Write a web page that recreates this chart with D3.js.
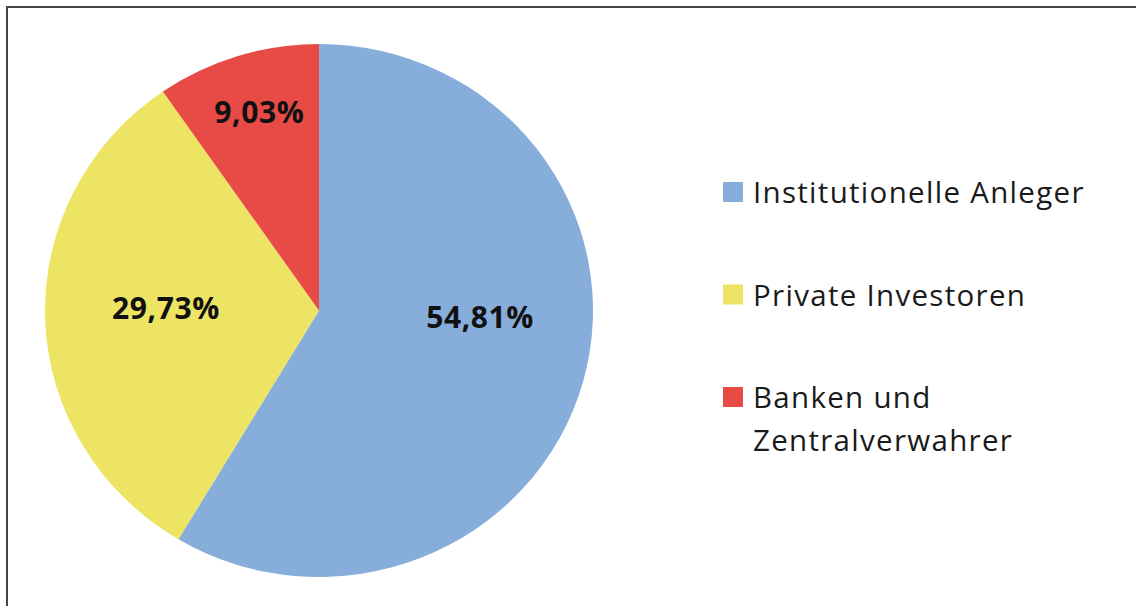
<!DOCTYPE html>
<html lang='de'>
<head>
	<meta charset='utf-8'>
	<script type='text/javascript' src='https://d3js.org/d3.v7.min.js'></script>
	<style type='text/css'>
		body{
			margin:0;
			background:#fff;
		}
		.pct-label{
			font-family:'Open Sans', Arial, sans-serif;
			font-weight:bold;
			font-size:30px;
			letter-spacing:0.6px;
			fill:#111;
		}
		.legend text{
			font-family:'Open Sans', Arial, sans-serif;
			font-size:29.5px;
			letter-spacing:1.3px;
			fill:#1a1a1a;
		}
	</style>
</head>
<body>
	<div id='chart'></div>

	<script type='text/javascript'>
		// data
		var categories = ['Institutionelle Anleger', 'Private Investoren', 'Banken und Zentralverwahrer'];
		var shares = [54.81, 29.73, 9.03];
		var shareLabels = ['54,81%', '29,73%', '9,03%'];
		var legendLines = [['Institutionelle Anleger'], ['Private Investoren'], ['Banken und', 'Zentralverwahrer']];
		var colors = ['#87ADDA', '#ECE462', '#E84A45'];

		var width = 1136,
			height = 606;

		var svg = d3.select('#chart')
			.append('svg')
			.attr('width', width)
			.attr('height', height);

		//frame (only top and left visible)
		svg.append('path')
			.attr('d', 'M7,' + height + 'V7H' + width)
			.style('fill', 'none')
			.style('stroke', '#454545')
			.style('stroke-width', 2);

		//pie, slightly wider than tall like the original
		var cx = 319, cy = 310.5;
		var ry = 266.5,
			sx = 274 / 266.5;
		var pieG = svg.append('g')
			.attr('transform', 'translate(' + cx + ',' + cy + ') scale(' + sx + ',1)');

		var pie = d3.pie()
			.sort(null)
			.value(function(d){ return d; });
		var arc = d3.arc()
			.innerRadius(0)
			.outerRadius(ry);

		var arcs = pie(shares);

		pieG.selectAll('path')
			.data(arcs)
			.enter()
			.append('path')
			.attr('d', arc)
			.style('fill', function(d, i){ return colors[i]; });

		//labels: along each slice's mid angle, then nudged like Excel's best fit
		var labelRadius = [0.6, 0.58, 0.73];
		var labelShift = [[2.6, -36], [5.8, -7.6], [0, -13]];
		svg.selectAll('.pct-label')
			.data(arcs)
			.enter()
			.append('text')
			.attr('class', 'pct-label')
			.attr('text-anchor', 'middle')
			.attr('x', function(d, i){
				var a = (d.startAngle + d.endAngle) / 2;
				return cx + Math.sin(a) * ry * labelRadius[i] * sx + labelShift[i][0];
			})
			.attr('y', function(d, i){
				var a = (d.startAngle + d.endAngle) / 2;
				return cy - Math.cos(a) * ry * labelRadius[i] + 11 + labelShift[i][1];
			})
			.text(function(d, i){ return shareLabels[i]; });

		//legend
		var legendY = d3.scaleLinear()
			.domain([0, categories.length - 1])
			.range([182, 387]);

		var legend = svg.append('g')
			.attr('class', 'legend');

		var items = legend.selectAll('g')
			.data(categories)
			.enter()
			.append('g')
			.attr('transform', function(d, i){ return 'translate(723,' + legendY(i) + ')'; });

		items.append('rect')
			.attr('width', 20)
			.attr('height', 20)
			.style('fill', function(d, i){ return colors[i]; });

		items.append('text')
			.attr('x', 30)
			.attr('y', 21)
			.each(function(d, i){
				var t = d3.select(this);
				legendLines[i].forEach(function(line, j){
					t.append('tspan')
						.attr('x', 30)
						.attr('dy', j === 0 ? 0 : 43)
						.text(line);
				});
			});
	</script>
</body>
</html>
